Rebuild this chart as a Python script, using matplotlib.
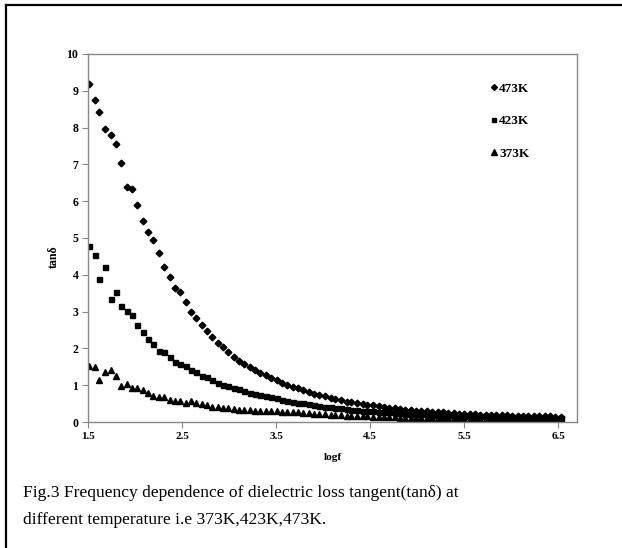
import matplotlib
matplotlib.use("Agg")
import matplotlib.pyplot as plt
from matplotlib.lines import Line2D

# log(frequency) sweep, one value per measured point
logf = [1.51, 1.57, 1.62, 1.68, 1.74, 1.80, 1.85, 1.91, 1.97, 2.02,
        2.08, 2.14, 2.19, 2.25, 2.31, 2.37, 2.42, 2.48, 2.54, 2.59,
        2.65, 2.71, 2.76, 2.82, 2.88, 2.94, 2.99, 3.05, 3.11, 3.16,
        3.22, 3.28, 3.33, 3.39, 3.45, 3.51, 3.56, 3.62, 3.68, 3.73,
        3.79, 3.85, 3.90, 3.96, 4.02, 4.08, 4.13, 4.19, 4.25, 4.30,
        4.36, 4.42, 4.47, 4.53, 4.59, 4.65, 4.70, 4.76, 4.82, 4.87,
        4.93, 4.99, 5.04, 5.10, 5.16, 5.22, 5.27, 5.33, 5.39, 5.44,
        5.50, 5.56, 5.61, 5.67, 5.73, 5.79, 5.84, 5.90, 5.96, 6.01,
        6.07, 6.13, 6.18, 6.24, 6.30, 6.36, 6.41, 6.47, 6.53]

tan_473 = [9.18, 8.75, 8.41, 7.97, 7.81, 7.56, 7.04, 6.39, 6.33, 5.89,
           5.47, 5.16, 4.95, 4.60, 4.22, 3.94, 3.63, 3.52, 3.27, 3.00,
           2.82, 2.64, 2.46, 2.30, 2.14, 2.03, 1.89, 1.77, 1.67, 1.58,
           1.50, 1.41, 1.34, 1.27, 1.20, 1.13, 1.07, 1.01, 0.96, 0.92,
           0.86, 0.82, 0.77, 0.73, 0.70, 0.65, 0.62, 0.59, 0.55, 0.54,
           0.52, 0.50, 0.47, 0.45, 0.43, 0.41, 0.39, 0.37, 0.36, 0.34,
           0.33, 0.31, 0.30, 0.29, 0.28, 0.27, 0.26, 0.25, 0.24, 0.23,
           0.22, 0.21, 0.21, 0.20, 0.20, 0.19, 0.19, 0.18, 0.18, 0.17,
           0.17, 0.16, 0.16, 0.16, 0.15, 0.15, 0.15, 0.14, 0.14]

tan_423 = [4.79, 4.53, 3.89, 4.22, 3.34, 3.52, 3.14, 3.02, 2.91, 2.64,
           2.45, 2.25, 2.13, 1.94, 1.89, 1.77, 1.62, 1.57, 1.51, 1.42,
           1.35, 1.25, 1.21, 1.13, 1.07, 1.01, 0.98, 0.93, 0.89, 0.84,
           0.80, 0.77, 0.74, 0.70, 0.67, 0.64, 0.61, 0.58, 0.55, 0.53,
           0.51, 0.48, 0.46, 0.44, 0.42, 0.40, 0.38, 0.37, 0.35, 0.33,
           0.32, 0.31, 0.30, 0.29, 0.28, 0.27, 0.26, 0.25, 0.24, 0.23,
           0.22, 0.21, 0.21, 0.20, 0.19, 0.19, 0.18, 0.18, 0.17, 0.17,
           0.16, 0.16, 0.15, 0.15, 0.15, 0.14, 0.14, 0.14, 0.13, 0.13,
           0.13, 0.12, 0.12, 0.12, 0.12, 0.11, 0.11, 0.11, 0.11]

tan_373 = [1.53, 1.50, 1.13, 1.37, 1.42, 1.25, 0.98, 1.02, 0.93, 0.93,
           0.86, 0.80, 0.72, 0.68, 0.67, 0.59, 0.56, 0.56, 0.53, 0.58,
           0.51, 0.49, 0.45, 0.42, 0.40, 0.39, 0.38, 0.35, 0.33, 0.33,
           0.32, 0.31, 0.31, 0.30, 0.29, 0.29, 0.28, 0.27, 0.27, 0.26,
           0.25, 0.24, 0.23, 0.22, 0.21, 0.20, 0.19, 0.18, 0.17, 0.16,
           0.16, 0.15, 0.15, 0.14, 0.14, 0.13, 0.13, 0.13, 0.12, 0.12,
           0.12, 0.11, 0.11, 0.11, 0.11, 0.10, 0.10, 0.10, 0.10, 0.10,
           0.09, 0.09, 0.09, 0.09, 0.09, 0.09, 0.08, 0.08, 0.08, 0.08,
           0.08, 0.08, 0.08, 0.08, 0.07, 0.07, 0.07, 0.07, 0.07]

labels = ["473K", "423K", "373K"]
x_ticks = [1.5, 2.5, 3.5, 4.5, 5.5, 6.5]
y_ticks = list(range(0, 11))

serif = "Liberation Serif"
axis_grey = "#888888"

fig = plt.figure(figsize=(6.22, 5.48), dpi=100)
ax = fig.add_axes([0.1415, 0.2299, 0.7862, 0.6716])

ax.plot(logf, tan_473, linestyle="none", marker="D", markersize=3.4, color="black", label=labels[0])
ax.plot(logf, tan_423, linestyle="none", marker="s", markersize=3.6, color="black", label=labels[1])
ax.plot(logf, tan_373, linestyle="none", marker="^", markersize=4.3, color="black", label=labels[2])

ax.set_xlim(1.5, 6.7)
ax.set_ylim(0, 10)
ax.set_xticks(x_ticks)
ax.set_yticks(y_ticks)
ax.set_xticklabels([str(t) for t in x_ticks], fontfamily=serif, fontweight="bold", fontsize=8)
ax.set_yticklabels([str(t) for t in y_ticks], fontfamily=serif, fontweight="bold", fontsize=8.5)
ax.tick_params(axis="both", direction="out", length=4, width=0.8, color=axis_grey, pad=3)

for side in ["left", "right", "top", "bottom"]:
    ax.spines[side].set_color(axis_grey)
    ax.spines[side].set_linewidth(1.0)

ax.set_xlabel("logf", fontfamily=serif, fontweight="bold", fontsize=8.2)
ax.xaxis.set_label_coords(0.5, -0.085)
ax.set_ylabel("tanδ", fontfamily=serif, fontweight="bold", fontsize=8.6)
ax.yaxis.set_label_coords(-0.057, 0.45)

handles = [
    Line2D([], [], linestyle="none", marker="D", markersize=3.0, color="black"),
    Line2D([], [], linestyle="none", marker="s", markersize=3.2, color="black"),
    Line2D([], [], linestyle="none", marker="^", markersize=3.8, color="black"),
]
ax.legend(handles, labels, loc="upper left", bbox_to_anchor=(0.8236, 0.922), frameon=False,
          prop={"family": serif, "weight": "bold", "size": 9.5}, labelspacing=1.52,
          handlelength=0.5, handletextpad=0.15, borderaxespad=0.0, borderpad=0.0)

fig.text(23 / 622, 1 - 493 / 548, "Fig.3 Frequency dependence of dielectric loss tangent(tanδ) at",
         fontfamily=serif, fontsize=12.6, va="center", ha="left")
fig.text(23 / 622, 1 - 520 / 548, "different temperature i.e 373K,423K,473K.",
         fontfamily=serif, fontsize=12.6, va="center", ha="left")

# outer frame (left and top edges visible in the reference)
fig.add_artist(Line2D([6 / 622, 6 / 622], [0, 1 - 5 / 548], transform=fig.transFigure, color="black", linewidth=1.6))
fig.add_artist(Line2D([6 / 622, 1], [1 - 5 / 548, 1 - 5 / 548], transform=fig.transFigure, color="black", linewidth=1.6))

fig.savefig("out.png", dpi=100)
